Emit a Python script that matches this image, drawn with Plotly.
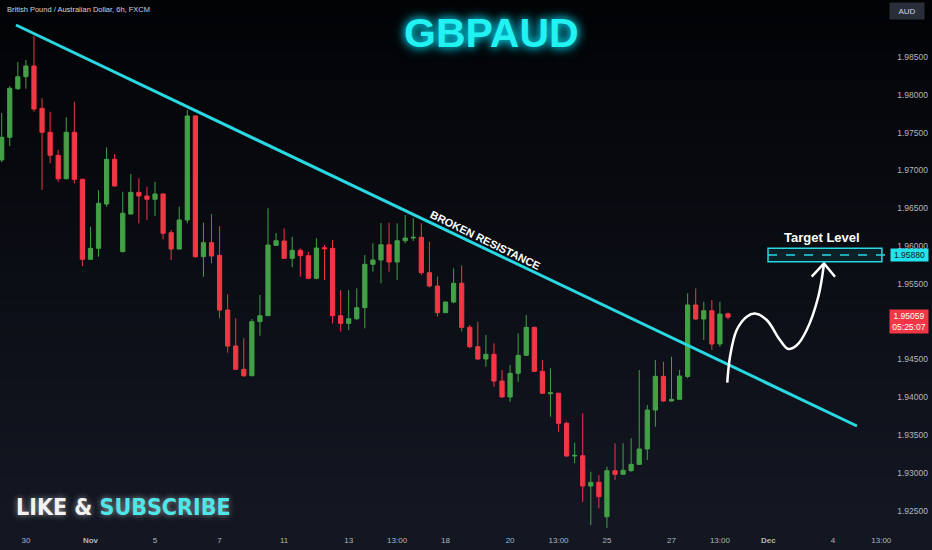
import plotly.graph_objects as go

# ---------------- data ----------------
candle_index = list(range(91))
opens = [1.97138, 1.97438, 1.98081, 1.98239, 1.98381, 1.97821, 1.97504, 1.97200, 1.96890, 1.97504,
         1.96882, 1.95824, 1.95969, 1.96555, 1.97147, 1.95925, 1.96423, 1.96710, 1.96661, 1.96618,
         1.96688, 1.96176, 1.95960, 1.96344, 1.97720, 1.95858, 1.96044, 1.95877, 1.95153, 1.94677,
         1.94369, 1.94284, 1.94999, 1.95078, 1.96009, 1.96066, 1.95837, 1.95943, 1.95872, 1.95573,
         1.95977, 1.95969, 1.95078, 1.94977, 1.95038, 1.95184, 1.95758, 1.95815, 1.96017, 1.95788,
         1.96070, 1.96106, 1.96115, 1.95647, 1.95471, 1.95118, 1.95259, 1.95507, 1.94924, 1.94668,
         1.94505, 1.94567, 1.94214, 1.94003, 1.94316, 1.94554, 1.94924, 1.94342, 1.94046, 1.94052,
         1.93655, 1.93222, 1.93226, 1.92825, 1.92874, 1.92419, 1.93028, 1.92980, 1.93028, 1.93112,
         1.93315, 1.93830, 1.94276, 1.93950, 1.93972, 1.94274, 1.95220, 1.95034, 1.95144, 1.94704,
         1.95104]
highs = [1.97759, 1.98116, 1.98434, 1.98460, 1.98778, 1.97954, 1.97776, 1.97270, 1.97702, 1.97909,
         1.96893, 1.96255, 1.96741, 1.97305, 1.97217, 1.96718, 1.96952, 1.96895, 1.96784, 1.96850,
         1.96697, 1.96212, 1.96520, 1.97799, 1.97733, 1.96308, 1.96423, 1.96264, 1.95361, 1.95043,
         1.94779, 1.95034, 1.95352, 1.96499, 1.96172, 1.96234, 1.96123, 1.95969, 1.95925, 1.96102,
         1.96013, 1.96079, 1.95418, 1.95418, 1.95440, 1.95881, 1.96036, 1.96304, 1.96308, 1.96300,
         1.96410, 1.96366, 1.96300, 1.96057, 1.95594, 1.95263, 1.95705, 1.95742, 1.94955, 1.94999,
         1.94823, 1.94713, 1.94360, 1.94426, 1.94845, 1.95087, 1.94935, 1.94492, 1.94382, 1.94059,
         1.93676, 1.93398, 1.93787, 1.93014, 1.92971, 1.93080, 1.93390, 1.93390, 1.93456, 1.94360,
         1.93897, 1.94492, 1.94469, 1.94536, 1.94360, 1.95374, 1.95440, 1.95263, 1.95286, 1.95263,
         1.95118]
lows = [1.97111, 1.97323, 1.98063, 1.98081, 1.97776, 1.96741, 1.97094, 1.96850, 1.96880, 1.96829,
        1.95735, 1.95815, 1.95858, 1.96520, 1.96784, 1.95914, 1.96417, 1.96300, 1.96344, 1.96397,
        1.96089, 1.95815, 1.95954, 1.96300, 1.95848, 1.95594, 1.95771, 1.95043, 1.94589, 1.94360,
        1.94271, 1.94280, 1.94813, 1.95074, 1.96007, 1.95828, 1.95718, 1.95594, 1.95559, 1.95559,
        1.95550, 1.94977, 1.94866, 1.94889, 1.95021, 1.94911, 1.95660, 1.95507, 1.95660, 1.95550,
        1.96036, 1.96066, 1.95616, 1.95454, 1.95065, 1.95115, 1.95242, 1.94869, 1.94647, 1.94492,
        1.94403, 1.94139, 1.93993, 1.93940, 1.94205, 1.94545, 1.94337, 1.94042, 1.93742, 1.93543,
        1.93213, 1.93126, 1.92618, 1.92309, 1.92530, 1.92266, 1.92905, 1.92971, 1.93014, 1.93103,
        1.93169, 1.93610, 1.93940, 1.93940, 1.93969, 1.94250, 1.95021, 1.94756, 1.94624, 1.94668,
        1.95030]
closes = [1.97438, 1.98086, 1.98239, 1.98381, 1.97812, 1.97504, 1.97200, 1.96890, 1.97504, 1.96882,
          1.95824, 1.95969, 1.96565, 1.97147, 1.96794, 1.96433, 1.96710, 1.96661, 1.96618, 1.96688,
          1.96168, 1.95960, 1.96344, 1.97720, 1.95858, 1.96044, 1.95868, 1.95153, 1.94677, 1.94369,
          1.94284, 1.94999, 1.95078, 1.96013, 1.96070, 1.95837, 1.95943, 1.95872, 1.95573, 1.95973,
          1.95964, 1.95078, 1.94977, 1.95038, 1.95184, 1.95758, 1.95815, 1.96017, 1.95788, 1.96070,
          1.96106, 1.96115, 1.95647, 1.95471, 1.95118, 1.95259, 1.95507, 1.94924, 1.94668, 1.94505,
          1.94567, 1.94214, 1.94003, 1.94316, 1.94554, 1.94924, 1.94342, 1.94052, 1.94059, 1.93655,
          1.93222, 1.93231, 1.92825, 1.92874, 1.92684, 1.93028, 1.92980, 1.93033, 1.93112, 1.93315,
          1.93830, 1.94276, 1.93950, 1.93972, 1.94280, 1.95220, 1.95034, 1.95144, 1.94704, 1.95100,
          1.95059]

time_tick_pos = [3, 11, 19, 27, 35, 43, 49, 55, 63, 69, 75, 83, 89, 95, 103, 109]
time_tick_text = ["30", "<b>Nov</b>", "5", "7", "11", "13", "13:00", "18", "20", "13:00",
                  "25", "27", "13:00", "<b>Dec</b>", "4", "13:00"]
# 1.95000 sits behind the last-price badge in the reference, so it is not listed
price_ticks = [1.925, 1.930, 1.935, 1.940, 1.945, 1.955, 1.960, 1.965, 1.970, 1.975, 1.980, 1.985]

# drawings on the chart
trend_x = [1.77, 105.98]
trend_y = [1.98923, 1.93619]
target_level = 1.95880
target_box_x = [94.96, 109.07]
target_box_y = [1.95792, 1.95970]
target_dash_end = 110.2
path_x = [89.91, 90.25, 91.08, 92.32, 93.35, 94.80, 96.44, 97.47, 98.55, 99.75, 101.19, 101.90]
path_y = [1.94192, 1.94536, 1.94889, 1.95065, 1.95107, 1.95021, 1.94757, 1.94638, 1.94690,
          1.94889, 1.95329, 1.95769]
head_x = [100.37, 101.90, 103.26]
head_y = [1.95594, 1.95769, 1.95594]
last_price = 1.95059
countdown = "05:25:07"

# ---------------- figure ----------------
W, H = 932, 550
MT, MB = 0, 22
PH = H - MT - MB

CYAN = "#28d8e2"
UP = "#43a047"
DOWN = "#f23645"

fig = go.Figure()

fig.add_trace(go.Candlestick(
    x=candle_index, open=opens, high=highs, low=lows, close=closes,
    increasing=dict(line=dict(color=UP, width=1), fillcolor=UP),
    decreasing=dict(line=dict(color=DOWN, width=1), fillcolor=DOWN),
    whiskerwidth=0, hoverinfo="skip",
))

fig.add_trace(go.Scatter(x=trend_x, y=trend_y, mode="lines",
                         line=dict(color=CYAN, width=3), hoverinfo="skip"))

fig.add_trace(go.Scatter(x=path_x, y=path_y, mode="lines",
                         line=dict(color="white", width=2.5, shape="spline", smoothing=1),
                         hoverinfo="skip"))
fig.add_trace(go.Scatter(x=head_x, y=head_y, mode="lines",
                         line=dict(color="white", width=2.5), hoverinfo="skip"))

shapes = []
# background gradient (black top -> dark navy bottom)
N = 60
for k in range(N):
    t0 = k / N
    t1 = (k + 1) / N
    tm = (t0 + t1) / 2
    r = int(2 + 18 * tm)
    g = int(3 + 21 * tm)
    b = int(5 + 30 * tm)
    y_top = 1 - t0
    y_bot = 1 - t1 if k < N - 1 else -MB / PH - 0.01
    shapes.append(dict(type="rect", xref="paper", yref="paper", x0=0, x1=1,
                       y0=y_bot, y1=y_top + 0.001, line=dict(width=0),
                       fillcolor=f"rgb({r},{g},{b})", layer="below"))

shapes.append(dict(type="rect", xref="x", yref="y",
                   x0=target_box_x[0], x1=target_box_x[1],
                   y0=target_box_y[0], y1=target_box_y[1],
                   line=dict(color=CYAN, width=1.5), fillcolor="rgba(40,216,226,0.10)"))
shapes.append(dict(type="line", xref="x", yref="y",
                   x0=target_box_x[0], x1=target_dash_end, y0=target_level, y1=target_level,
                   line=dict(color=CYAN, width=1.5, dash="dash")))

annotations = [
    dict(text="British Pound / Australian Dollar, 6h, FXCM", xref="paper", yref="paper",
         x=5 / W, y=1 - 10 / PH, xanchor="left", yanchor="middle", showarrow=False,
         font=dict(family="Liberation Sans, Arial", size=7.5, color="#d1d4dc")),
    dict(text="GBPAUD", xref="paper", yref="paper", x=491 / W, y=1 - 33 / PH,
         xanchor="center", yanchor="middle", showarrow=False,
         font=dict(family="Liberation Sans, Arial", size=41, color="#22f2f2", weight="bold",
                   shadow="0px 0px 8px #00e5ff, 0px 0px 14px rgba(0,229,255,0.6)")),
    dict(text="LIKE & <span style='color:#4fe6ea'>SUBSCRIBE</span>", xref="paper", yref="paper",
         x=14 / W, y=(H - MB - 507) / PH, xanchor="left", yanchor="middle", showarrow=False,
         font=dict(family="DejaVu Sans Condensed, Liberation Sans, Arial", size=23,
                   color="#f2f2f2", weight="bold",
                   shadow="0px 0px 6px rgba(255,255,255,0.55)")),
    dict(text="BROKEN RESISTANCE", xref="x", yref="y", x=59.9, y=1.96079,
         textangle=26, showarrow=False,
         font=dict(family="Liberation Sans, Arial", size=11, color="white", weight="bold")),
    dict(text="Target Level", xref="x", yref="y", x=101.7, y=1.96106, showarrow=False,
         font=dict(family="Liberation Sans, Arial", size=13, color="white", weight="bold")),
    dict(text=f"{target_level:.5f}", xref="paper", yref="y", x=909 / W, y=target_level,
         xanchor="center", yanchor="middle", showarrow=False, bgcolor="#22e3ee",
         width=35, borderpad=1,
         font=dict(family="Liberation Sans, Arial", size=8.5, color="#0b1a1c")),
    dict(text=f"{last_price:.5f}<br>{countdown}", xref="paper", yref="y", x=909 / W, y=last_price,
         xanchor="center", yanchor="top", yshift=8, showarrow=False, bgcolor=DOWN,
         width=36, borderpad=1,
         font=dict(family="Liberation Sans, Arial", size=8.5, color="white")),
    dict(text="AUD", xref="paper", yref="paper", x=907 / W, y=1 - 11 / PH,
         xanchor="center", yanchor="middle", showarrow=False, bgcolor="#2a2e39",
         width=32, height=14,
         font=dict(family="Liberation Sans, Arial", size=8, color="#d1d4dc")),
]

fig.update_layout(
    width=W, height=H,
    margin=dict(l=0, r=0, t=MT, b=MB, pad=0),
    paper_bgcolor="#141824",
    plot_bgcolor="rgba(0,0,0,0)",
    showlegend=False,
    boxgap=0.25,
    shapes=shapes,
    annotations=annotations,
    xaxis=dict(range=[-0.21, 115.28], rangeslider=dict(visible=False), showgrid=False,
               zeroline=False, showline=False, ticks="", tickmode="array",
               tickvals=time_tick_pos, ticktext=time_tick_text, ticklabelstandoff=6,
               tickfont=dict(family="Liberation Sans, Arial", size=8, color="#b2b5be")),
    yaxis=dict(range=[1.92270, 1.99254], side="right", ticklabelposition="inside",
               showgrid=False, zeroline=False, showline=False, ticks="",
               tickmode="array", tickvals=price_ticks,
               ticktext=[f"{v:.5f}" for v in price_ticks], ticklabelstandoff=1,
               tickfont=dict(family="Liberation Sans, Arial", size=8.5, color="#b2b5be")),
)

fig.write_html("out.html", config={"displayModeBar": False},
               post_script="document.body.style.margin='0';document.body.style.padding='0';"
                           "document.body.style.background='#000';")
